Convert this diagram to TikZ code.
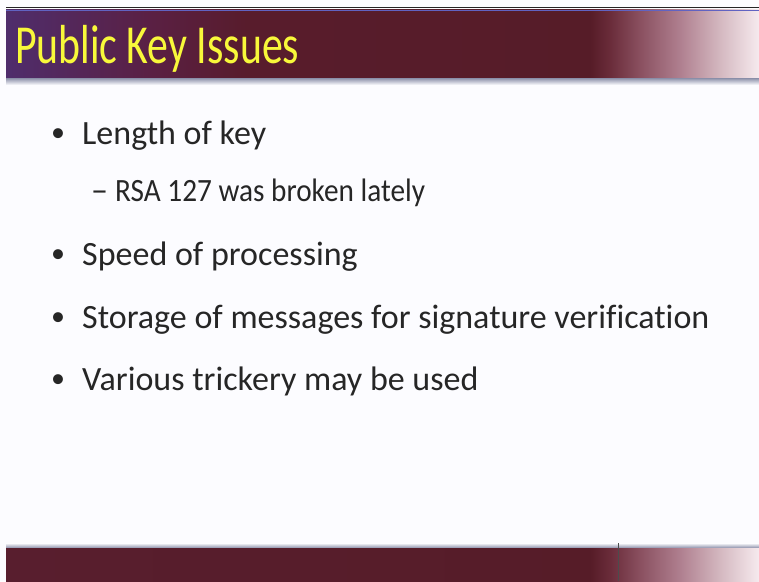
\documentclass[tikz,border=0pt]{standalone}
\usepackage{fontspec}
\setmainfont{Carlito}[Ligatures=NoCommon]
\newfontfamily\titlefont{Carlito}[FakeStretch=0.76]
\newfontfamily\subfont{Carlito}[FakeStretch=0.9,Ligatures=NoCommon]
\usetikzlibrary{calc}
\definecolor{txt}{HTML}{262626}
\definecolor{ttl}{HTML}{F8F83A}
\definecolor{shdw}{HTML}{8A8EA8}
\pgfdeclarehorizontalshading{barshade}{100bp}{%
  color(0bp)=({rgb,255:red,79;green,45;blue,108});
  color(25bp)=({rgb,255:red,79;green,45;blue,108});
  color(34.5bp)=({rgb,255:red,90;green,32;blue,68});
  color(41bp)=({rgb,255:red,88;green,28;blue,44});
  color(63.8bp)=({rgb,255:red,86;green,28;blue,40});
  color(65.1bp)=({rgb,255:red,106;green,44;blue,58});
  color(67.1bp)=({rgb,255:red,138;green,80;blue,96});
  color(69.8bp)=({rgb,255:red,176;green,128;blue,144});
  color(72.4bp)=({rgb,255:red,212;green,184;blue,192});
  color(75bp)=({rgb,255:red,246;green,234;blue,238});
  color(100bp)=({rgb,255:red,246;green,234;blue,238})}
\pgfdeclarehorizontalshading{footshade}{100bp}{%
  color(0bp)=({rgb,255:red,88;green,30;blue,46});
  color(25bp)=({rgb,255:red,88;green,30;blue,46});
  color(63.8bp)=({rgb,255:red,86;green,28;blue,40});
  color(65.1bp)=({rgb,255:red,106;green,44;blue,58});
  color(67.1bp)=({rgb,255:red,138;green,80;blue,96});
  color(69.8bp)=({rgb,255:red,176;green,128;blue,144});
  color(72.4bp)=({rgb,255:red,212;green,184;blue,192});
  color(75bp)=({rgb,255:red,246;green,234;blue,238});
  color(100bp)=({rgb,255:red,246;green,234;blue,238})}
\tikzset{
  bodytext/.style={anchor=base west, inner sep=0pt, text=txt, font=\fontsize{34}{36}\selectfont},
  subtext/.style={anchor=base west, inner sep=0pt, text=txt, font=\subfont\fontsize{32.5}{34}\selectfont},
  dashmark/.style={anchor=base west, inner sep=0pt, text=txt, font=\fontsize{34}{34}\selectfont},
  bulletmark/.style={anchor=base west, inner sep=0pt, text=txt, font=\fontsize{28}{30}\selectfont},
}
\begin{document}
\begin{tikzpicture}[x=1pt,y=-1pt]
\useasboundingbox (0,0) rectangle (759,581);
\fill[white!99!blue] (0,0) rectangle (759,581);
% top rule
\draw[black!85, line width=1.2pt] (6,7.5) -- (759,7.5);
% title bar
\shade[shading=barshade] (6,9.5) rectangle (759,78);
\draw[shdw!70!blue, line width=0.8pt] (6,10) -- (759,10);
\shade[top color=shdw, bottom color=white!99!blue] (6,78) rectangle (759,85);
\node[anchor=base west, inner sep=0pt, text=ttl, font=\titlefont\fontsize{55}{55}\selectfont] (title) at (15,63) {Public Key Issues};
% bullets
\node[bulletmark] (b1) at (51,141) {•};
\node[bodytext] (t1) at (82,144) {Length of key};
\node[dashmark] (d1) at (91,201) {–};
\node[subtext] (t2) at (115,201) {RSA 127 was broken lately};
\node[bulletmark] (b2) at (51,262) {•};
\node[bodytext] (t3) at (82,265) {Speed of processing};
\node[bulletmark] (b3) at (51,325) {•};
\node[bodytext] (t4) at (82,328) {Storage of messages for signature verification};
\node[bulletmark] (b4) at (51,387) {•};
\node[bodytext] (t5) at (82,390) {Various trickery may be used};
% footer bar
\shade[top color=white!99!blue, bottom color=shdw] (6,543) rectangle (759,548);
\shade[shading=footshade] (6,548) rectangle (759,581);
\coordinate (vtop) at (618,543);
\coordinate (vbot) at (618,581);
\draw[black!70, line width=0.9pt] (vtop) -- (vbot);
\end{tikzpicture}
\end{document}
